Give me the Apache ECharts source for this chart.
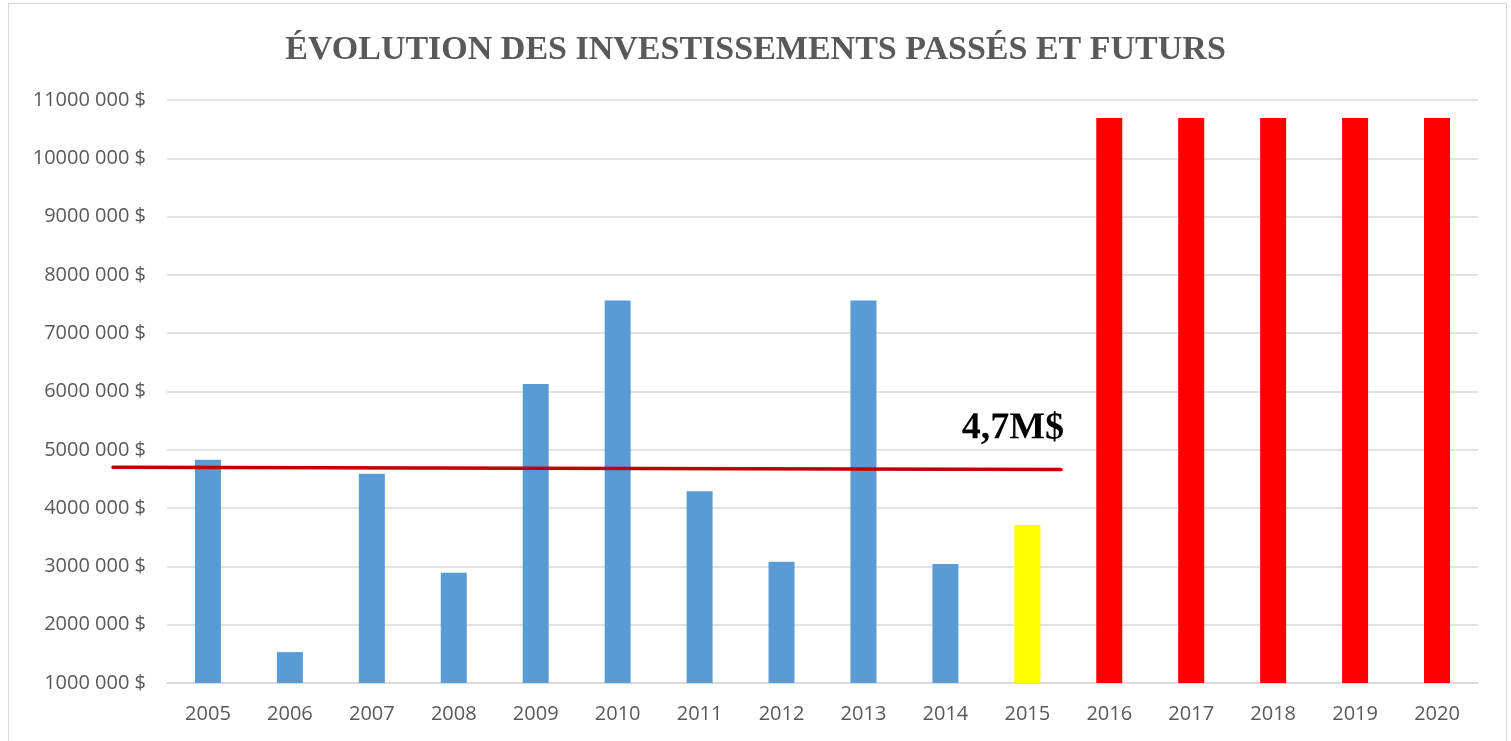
<!DOCTYPE html>
<html>
<head>
<meta charset="utf-8">
<script src="https://cdn.jsdelivr.net/npm/echarts@6/dist/echarts.min.js"></script>
<style>
  html, body { margin: 0; padding: 0; background: #fff; }
  #frame { position: absolute; left: 8px; top: 3px; width: 1499px; height: 760px; border: 1px solid #d9d9d9; box-sizing: border-box; }
  #chart { position: absolute; left: 0; top: 0; width: 1511px; height: 741px; }
</style>
</head>
<body>
<div id="frame"></div>
<div id="chart"></div>
<script>
/* ---- data ---- */
const years = ["2005", "2006", "2007", "2008", "2009", "2010", "2011", "2012",
  "2013", "2014", "2015", "2016", "2017", "2018", "2019", "2020"];
const investments = [4830000, 1530000, 4590000, 2890000, 6130000, 7560000, 4290000, 3080000,
  7560000, 3040000, 3710000, 10690000, 10690000, 10690000, 10690000, 10690000];
const currentYear = "2015";
const averageStart = 4700000;
const averageEnd = 4660000;
const averageLabel = "4,7M$";

const chart = echarts.init(document.getElementById("chart"));

// past years blue, current year yellow, future years red
const barColor = (year) =>
  year < currentYear ? "#5B9BD5" : year === currentYear ? "#FFFF00" : "#FF0000";

chart.setOption({
  animation: false,
  backgroundColor: "transparent",
  title: {
    text: "ÉVOLUTION DES INVESTISSEMENTS PASSÉS ET FUTURS",
    left: "center",
    top: 28,
    textStyle: {
      fontFamily: "Liberation Serif",
      fontWeight: "bold",
      fontSize: 34,
      color: "#595959",
    },
  },
  grid: { left: 167, right: 33, top: 100, bottom: 58 },
  xAxis: {
    type: "category",
    data: years,
    axisLine: { lineStyle: { color: "#d9d9d9", width: 1.5 } },
    axisTick: { show: false },
    axisLabel: {
      fontFamily: "Open Sans",
      fontSize: 20,
      color: "#595959",
      margin: 21,
    },
  },
  yAxis: {
    type: "value",
    min: 1000000,
    max: 11000000,
    interval: 1000000,
    axisLine: { show: false },
    axisTick: { show: false },
    splitLine: { lineStyle: { color: "#d9d9d9", width: 1.5 } },
    axisLabel: {
      fontFamily: "Open Sans",
      fontSize: 20,
      color: "#595959",
      margin: 21,
      formatter: (v) => v / 1000 + " 000 $",
    },
  },
  series: [
    {
      type: "bar",
      barWidth: 26,
      data: investments.map((v, i) => ({
        value: v,
        itemStyle: { color: barColor(years[i]) },
      })),
      markLine: {
        silent: true,
        symbol: "none",
        lineStyle: { color: "#C00000", width: 3.5, type: "solid", cap: "round" },
        label: {
          show: true,
          position: "insideEndTop",
          formatter: averageLabel,
          fontFamily: "Liberation Serif",
          fontWeight: "bold",
          fontSize: 38,
          color: "#000",
          distance: [-3, 22],
        },
        data: [
          [
            { coord: [years[0], averageStart], x: 113 },
            { coord: [currentYear, averageEnd], x: 1061 },
          ],
        ],
      },
    },
  ],
});
</script>
</body>
</html>
